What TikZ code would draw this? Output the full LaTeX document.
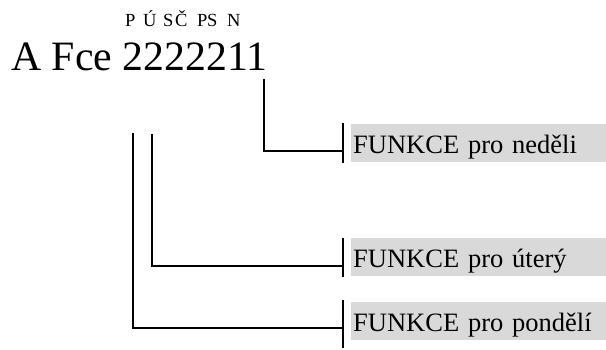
\documentclass[tikz,border=0pt]{standalone}
\usepackage{fontspec}
\setmainfont{Liberation Serif}
\definecolor{boxgray}{HTML}{D9D9D9}
\begin{document}
\begin{tikzpicture}[x=1pt,y=-1pt,
  daylbl/.style={fill=boxgray, anchor=north west, inner xsep=2pt, inner ysep=0pt,
    text width=251pt, align=left, text height=29pt, text depth=9pt,
    font=\fontsize{26.5}{26.5}\selectfont},
  wire/.style={line width=2pt},
  letter/.style={anchor=base west, inner sep=0pt, font=\fontsize{18.5}{18.5}\selectfont}]
\useasboundingbox (0,0) rectangle (606,349);

% code line
\node[anchor=base west, inner sep=0pt, font=\fontsize{41.8}{41.8}\selectfont]
  (code) at (11,70) {A Fce 2222211};

% day initials above the digits
\foreach \c/\x [count=\i] in {P/125,Ú/143,S/163,Č/175,P/197,S/207,N/227}
  \node[letter] (d\i) at (\x,26) {\c};

% labels
\node[daylbl] (sun) at (351,124) {FUNKCE pro neděli};
\node[daylbl] (tue) at (351,238) {FUNKCE pro úterý};
\node[daylbl] (mon) at (351,302) {FUNKCE pro pondělí};

% connector end points
\coordinate (sunTop) at (264,79);
\coordinate (tueTop) at (152,134);
\coordinate (monTop) at (133,133);
\coordinate (sunEnd) at (343,151);
\coordinate (tueEnd) at (343,266);
\coordinate (monEnd) at (343,328);

\draw[wire] (sunTop) |- (sunEnd);
\draw[wire] (tueTop) |- (tueEnd);
\draw[wire] (monTop) |- (monEnd);

% end ticks
\draw[wire] (343,123) -- (343,163);
\draw[wire] (343,238) -- (343,277);
\draw[wire] (343,300) -- (343,348);
\end{tikzpicture}
\end{document}
